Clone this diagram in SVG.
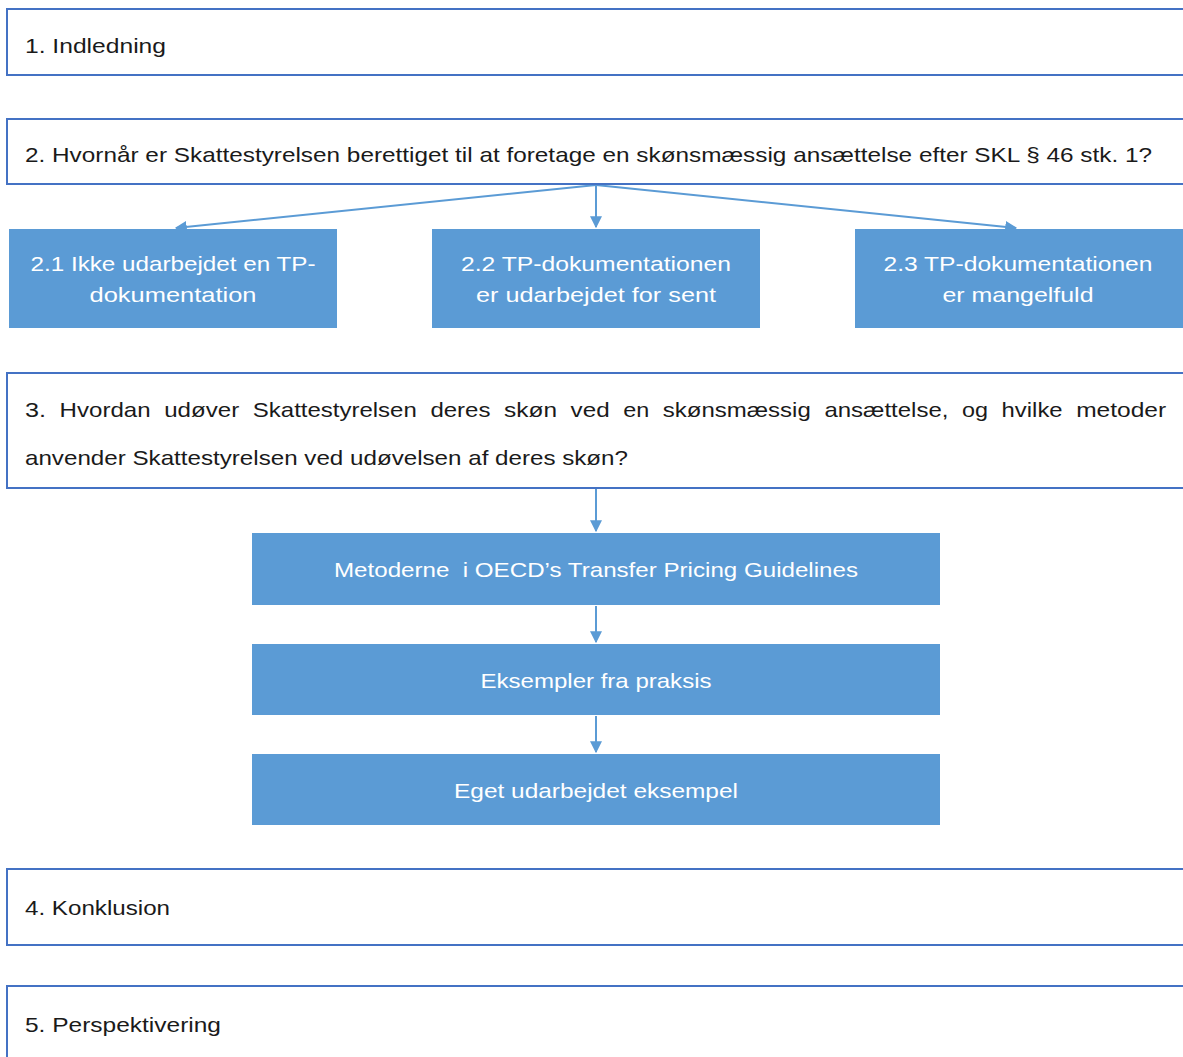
<svg xmlns="http://www.w3.org/2000/svg" width="1183" height="1057" viewBox="0 0 1183 1057">
<style>
.ob{fill:#fff;stroke:#4472C4;stroke-width:2}
.bb{fill:#5B9BD5;stroke:none}
.t{font-family:"Liberation Sans",Arial,sans-serif;font-size:21px;fill:#1a1a1a}
.w{font-family:"Liberation Sans",Arial,sans-serif;font-size:21px;fill:#fff;text-anchor:middle}
.c{stroke:#5B9BD5;stroke-width:2;fill:none}
</style>
<defs>
<marker id="ah2" viewBox="0 0 10 10" refX="9" refY="5" markerWidth="12" markerHeight="12" markerUnits="userSpaceOnUse" orient="auto"><path d="M0,0 L10,5 L0,10 z" fill="#5B9BD5"/></marker>
</defs>
<g id="connectors">
<line class="c" x1="596" y1="185" x2="596" y2="227" marker-end="url(#ah2)"/>
<line class="c" x1="596" y1="185" x2="176" y2="228" marker-end="url(#ah2)"/>
<line class="c" x1="596" y1="185" x2="1016" y2="228" marker-end="url(#ah2)"/>
<line class="c" x1="596" y1="489" x2="596" y2="531" marker-end="url(#ah2)"/>
<line class="c" x1="596" y1="606" x2="596" y2="642" marker-end="url(#ah2)"/>
<line class="c" x1="596" y1="716" x2="596" y2="752" marker-end="url(#ah2)"/>
</g>
<g id="n1"><rect class="ob" x="7" y="9" width="1190" height="66"/><text class="t" x="25" y="53" textLength="141" lengthAdjust="spacingAndGlyphs">1. Indledning</text></g>
<g id="n2"><rect class="ob" x="7" y="119" width="1190" height="65"/><text class="t" x="25" y="162" textLength="1127" lengthAdjust="spacingAndGlyphs">2. Hvornår er Skattestyrelsen berettiget til at foretage en skønsmæssig ansættelse efter SKL § 46 stk. 1?</text></g>
<g id="n21"><rect class="bb" x="9" y="229" width="328" height="99"/><text class="w" x="173" y="271" textLength="285" lengthAdjust="spacingAndGlyphs">2.1 Ikke udarbejdet en TP-</text><text class="w" x="173" y="302" textLength="167" lengthAdjust="spacingAndGlyphs">dokumentation</text></g>
<g id="n22"><rect class="bb" x="432" y="229" width="328" height="99"/><text class="w" x="596" y="271" textLength="270" lengthAdjust="spacingAndGlyphs">2.2 TP-dokumentationen</text><text class="w" x="596" y="302" textLength="240" lengthAdjust="spacingAndGlyphs">er udarbejdet for sent</text></g>
<g id="n23"><rect class="bb" x="855" y="229" width="340" height="99"/><text class="w" x="1018" y="271" textLength="269" lengthAdjust="spacingAndGlyphs">2.3 TP-dokumentationen</text><text class="w" x="1018" y="302" textLength="151" lengthAdjust="spacingAndGlyphs">er mangelfuld</text></g>
<g id="n3"><rect class="ob" x="7" y="373" width="1190" height="115"/>
<text class="t" y="417"><tspan x="25" textLength="21" lengthAdjust="spacingAndGlyphs">3.</tspan><tspan x="59.6" textLength="91" lengthAdjust="spacingAndGlyphs">Hvordan</tspan><tspan x="164.2" textLength="75" lengthAdjust="spacingAndGlyphs">udøver</tspan><tspan x="252.8" textLength="164" lengthAdjust="spacingAndGlyphs">Skattestyrelsen</tspan><tspan x="430.4" textLength="60" lengthAdjust="spacingAndGlyphs">deres</tspan><tspan x="504" textLength="53" lengthAdjust="spacingAndGlyphs">skøn</tspan><tspan x="570.6" textLength="39" lengthAdjust="spacingAndGlyphs">ved</tspan><tspan x="623.2" textLength="26" lengthAdjust="spacingAndGlyphs">en</tspan><tspan x="662.8" textLength="148" lengthAdjust="spacingAndGlyphs">skønsmæssig</tspan><tspan x="824.4" textLength="124" lengthAdjust="spacingAndGlyphs">ansættelse,</tspan><tspan x="962" textLength="26" lengthAdjust="spacingAndGlyphs">og</tspan><tspan x="1001.6" textLength="61" lengthAdjust="spacingAndGlyphs">hvilke</tspan><tspan x="1076.2" textLength="90" lengthAdjust="spacingAndGlyphs">metoder</tspan></text>
<text class="t" x="25" y="465" textLength="603" lengthAdjust="spacingAndGlyphs">anvender Skattestyrelsen ved udøvelsen af deres skøn?</text></g>
<g id="n31"><rect class="bb" x="252" y="533" width="688" height="72"/><text class="w" x="596" y="577" textLength="524" lengthAdjust="spacingAndGlyphs">Metoderne&#160; i OECD’s Transfer Pricing Guidelines</text></g>
<g id="n32"><rect class="bb" x="252" y="644" width="688" height="71"/><text class="w" x="596" y="688" textLength="231" lengthAdjust="spacingAndGlyphs">Eksempler fra praksis</text></g>
<g id="n33"><rect class="bb" x="252" y="754" width="688" height="71"/><text class="w" x="596" y="798" textLength="284" lengthAdjust="spacingAndGlyphs">Eget udarbejdet eksempel</text></g>
<g id="n4"><rect class="ob" x="7" y="869" width="1190" height="76"/><text class="t" x="25" y="915" textLength="145" lengthAdjust="spacingAndGlyphs">4. Konklusion</text></g>
<g id="n5"><rect class="ob" x="7" y="986" width="1190" height="90"/><text class="t" x="25" y="1032" textLength="196" lengthAdjust="spacingAndGlyphs">5. Perspektivering</text></g>
</svg>
